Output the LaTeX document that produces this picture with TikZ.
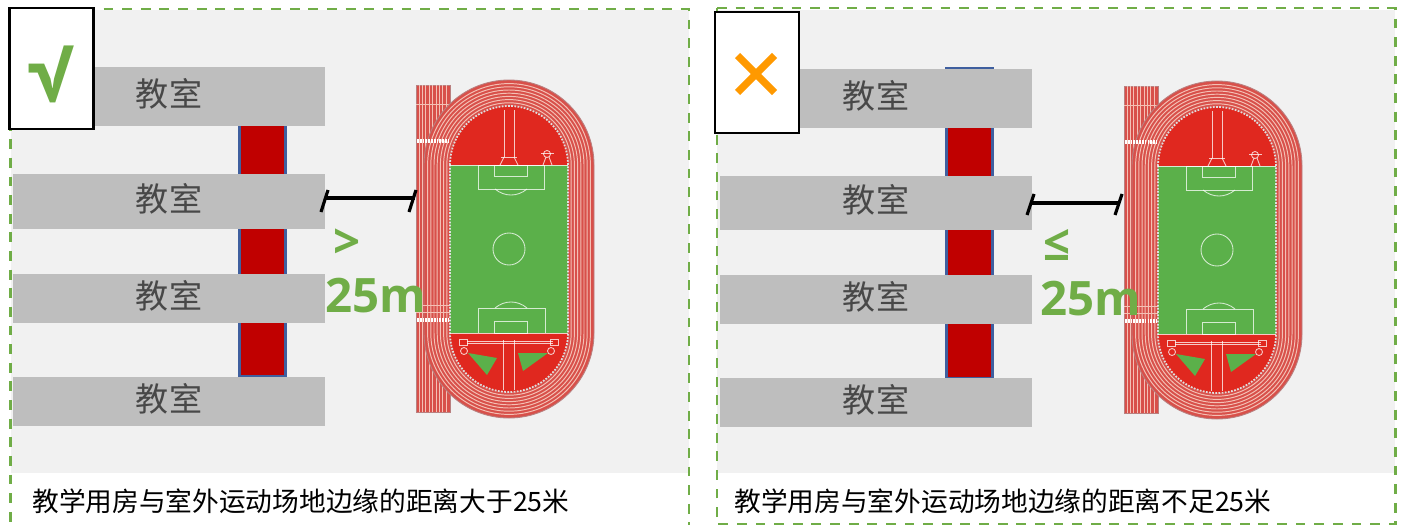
\documentclass[tikz,border=0pt]{standalone}
\usepackage{fontspec}
\setmainfont{Noto Sans CJK SC}
\newfontfamily\labelfont{Open Sans}
\newfontfamily\checkfont{PT Sans}
\usetikzlibrary{calc}

\definecolor{panelgray}{HTML}{F1F1F1}
\definecolor{dashgreen}{HTML}{70AD47}
\definecolor{roomgray}{HTML}{BEBEBE}
\definecolor{roomtext}{HTML}{484848}
\definecolor{corridorred}{HTML}{C00000}
\definecolor{corridorblue}{HTML}{3F5F9F}
\definecolor{trackred}{HTML}{D8504A}
\definecolor{trackedge}{HTML}{B98080}
\definecolor{lanepink}{HTML}{F4C0B5}
\definecolor{infieldred}{HTML}{E0281F}
\definecolor{fieldgreen}{HTML}{5BB04A}
\definecolor{crossorange}{HTML}{FF9900}

\tikzset{
  panel/.style={draw=dashgreen,line width=1.6pt,dash pattern=on 5.6pt off 5pt},
  room/.style={fill=roomgray,text=roomtext,minimum width=6.24cm,inner sep=0pt,text height=1.2em,text depth=.09em,font=\fontsize{18.8}{20}\selectfont},
  corridor/.style={fill=corridorred,draw=corridorblue,line width=1.6pt,minimum width=.92cm,inner sep=0pt},
  iconbox/.style={draw=black,fill=white,line width=1.2pt,minimum width=1.68cm,minimum height=2.42cm,inner sep=0pt},
  caption/.style={anchor=west,inner sep=0pt,text=black,font=\fontsize{15.2}{17}\selectfont},
  gaplabel/.style={font=\labelfont\bfseries\fontsize{27}{30}\selectfont,text=dashgreen,inner sep=0pt},
  dimline/.style={draw=black,line width=2.6pt},
  dimtick/.style={draw=black,line width=1.8pt},
  lane/.style={draw=lanepink,line width=.55pt},
  mark line/.style={draw=white,draw opacity=.75,line width=.5pt},
  stadium/.pic={
    \begin{scope}[y=.02cm]
    % start straight
    \draw [fill=trackred,draw=trackedge,line width=.5pt] (-93,164) rectangle (-59,-163);
    \foreach \lx in {-90,-86.6,...,-60} {
      \draw [lane] (\lx,164) -- (\lx,-163);
    }
    \draw [lane] (-93,145) -- (-59,145);
    % oval track
    \draw [fill=trackred,draw=trackedge,line width=.5pt] (-85,84) arc[start angle=180,end angle=0,radius=85]
      -- (85,-84) arc[start angle=0,end angle=-180,radius=85] -- cycle;
    \foreach \r in {62.2,65.4,...,83} {
      \draw [lane] (-\r,84) arc[start angle=180,end angle=0,radius=\r]
        -- (\r,-84) arc[start angle=0,end angle=-180,radius=\r] -- cycle;
    }
    \foreach \ly in {-56,-63} {
      \draw [lane] (-93,\ly) -- (-59,\ly);
    }
    \draw [white,line width=2pt,dash pattern=on 1pt off .6pt] (-92,108) -- (-60,108);
    \draw [white,line width=2pt,dash pattern=on 1pt off .6pt] (-92,-71) -- (-60,-71);
    % infield
    \draw [fill=infieldred,draw=none] (-59,84) arc[start angle=180,end angle=0,radius=59]
      -- (59,-84) arc[start angle=0,end angle=-180,radius=59] -- cycle;
    \draw [fill=fieldgreen,draw=none] (-59,84) rectangle (59,-84);
    \draw [draw=gray!25,line width=1pt,dash pattern=on 1pt off .8pt] (-59,84) arc[start angle=180,end angle=0,radius=59]
      -- (59,-84) arc[start angle=0,end angle=-180,radius=59] -- cycle;
    \draw [mark line] (-59,84) -- (59,84);
    \draw [mark line] (-59,-84) -- (59,-84);
    \draw [mark line] (0,0) circle (16);
    % goals
    \draw [mark line] (-31,84) rectangle (35,60);
    \draw [mark line] (-15,84) rectangle (18,73);
    \draw [mark line] (-14,60) to [bend right=40] (18,60);
    \draw [mark line] (-31,-84) -- (-31,-59) -- (36,-59) -- (36,-84);
    \draw [mark line] (-15,-84) rectangle (18,-72);
    \draw [mark line] (-14,-59) to [bend left=40] (18,-59);
    % top events
    \draw [mark line] (-5,139) -- (-5,92);
    \draw [mark line] (5,139) -- (5,92);
    \draw [mark line] (-8,92) -- (8,92);
    \draw [mark line] (-5,92) -- (-9,84);
    \draw [mark line] (5,92) -- (9,84);
    \draw [mark line] (38,95) circle (3.5);
    \draw [mark line] (32,96) -- (45,96);
    \draw [mark line] (37,92) -- (34,84);
    \draw [mark line] (40,92) -- (43,84);
    % bottom events
    \draw [mark line] (-6,-91) -- (-6,-141);
    \draw [mark line] (5,-91) -- (5,-141);
    \draw [mark line] (-42,-92) -- (44,-92);
    \draw [mark line] (-42,-94) -- (44,-94);
    \draw [mark line] (-50,-90) rectangle (-42,-96);
    \draw [mark line] (41,-90) rectangle (49,-96);
    \draw [mark line] (-45,-102) circle (3.5);
    \draw [mark line] (42,-102) circle (3.5);
    \draw [fill=fieldgreen,draw=none] (-41,-104) -- (-12,-109) -- (-22,-126) -- cycle;
    \draw [fill=fieldgreen,draw=none] (39,-104) -- (9,-104) -- (14,-122) -- cycle;
    \end{scope}
  }
}

\begin{document}
\begin{tikzpicture}[x=.02cm,y=-.02cm]
\useasboundingbox (0,0) rectangle (1405,524);

% left panel
\draw [fill=panelgray,draw=none] (11,10) rectangle (689,473);
\draw [panel] (10.5,9) -- (689,9) -- (689,530);
\draw [panel] (10.5,9) -- (10.5,530);
\node [corridor,minimum height=6.12cm] (corridorA) at (262.5,223) {};
\node [room,minimum height=1.18cm] (roomAa) at (169,96.5) {教室};
\node [room,minimum height=1.10cm] (roomAb) at (169,201.5) {教室};
\node [room,minimum height=.98cm] (roomAc) at (169,298.5) {教室};
\node [room,minimum height=.98cm] (roomAd) at (169,401.5) {教室};
\pic at (509,249) {stadium};
\node [iconbox] (iconA) at (51.5,68.5) {};
\node [font=\checkfont\bfseries\fontsize{46}{50}\selectfont,text=dashgreen,inner sep=0pt] (checkA) at (51,74) {√};
\coordinate (dimAa) at (325,198);
\coordinate (dimAb) at (415,198);
\draw [dimline] (dimAa) -- (dimAb);
\draw [dimtick] ($(dimAa)+(-4,14)$) -- ($(dimAa)+(3,-8)$);
\draw [dimtick] ($(dimAb)+(-6,14)$) -- ($(dimAb)+(1,-8)$);
\node [gaplabel] (signA) at (347,244) {>};
\node [gaplabel,anchor=base west] (lengthA) at (325,312) {25m};
\node [caption] (captionA) at (32,501) {教学用房与室外运动场地边缘的距离大于25米};

% right panel
\draw [fill=panelgray,draw=none] (717,10) rectangle (1395,473);
\draw [panel] (717,8) -- (1395.5,8) -- (1395.5,524.5) -- (717,524.5) -- cycle;
\node [corridor,minimum height=6.2cm] (corridorB) at (969.5,223) {};
\node [room,minimum height=1.18cm] (roomBa) at (876,98.5) {教室};
\node [room,minimum height=1.08cm] (roomBb) at (876,203) {教室};
\node [room,minimum height=.98cm] (roomBc) at (876,299.5) {教室};
\node [room,minimum height=.98cm] (roomBd) at (876,402.5) {教室};
\pic at (1217,250) {stadium};
\node [iconbox] (iconB) at (757,72.5) {};
\draw [crossorange,line width=4.2pt] (737.5,55.5) -- (774.5,92.5);
\draw [crossorange,line width=4.2pt] (774.5,55.5) -- (737.5,92.5);
\coordinate (dimBa) at (1032,203);
\coordinate (dimBb) at (1120,203);
\draw [dimline] (dimBa) -- (dimBb);
\draw [dimtick] ($(dimBa)+(-5,12)$) -- ($(dimBa)+(2,-9)$);
\draw [dimtick] ($(dimBb)+(-5,12)$) -- ($(dimBb)+(2,-9)$);
\node [gaplabel] (signB) at (1057,245) {≤};
\node [gaplabel,anchor=base west] (lengthB) at (1040,315) {25m};
\node [caption] (captionB) at (734,501) {教学用房与室外运动场地边缘的距离不足25米};
\end{tikzpicture}
\end{document}
